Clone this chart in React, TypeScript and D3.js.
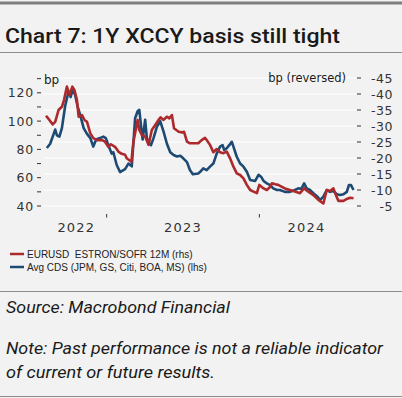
import React from "react";
import * as d3 from "d3";

const cdsDates = ["2022-08-11","2022-08-19","2022-08-31","2022-09-04","2022-09-10","2022-09-16","2022-09-24","2022-10-02","2022-10-07","2022-10-12","2022-10-18","2022-10-23","2022-10-30","2022-11-07","2022-11-15","2022-11-23","2022-11-30","2022-12-07","2022-12-16","2022-12-24","2022-12-30","2023-01-05","2023-01-13","2023-01-17","2023-01-25","2023-02-02","2023-02-14","2023-02-22","2023-03-02","2023-03-10","2023-03-16","2023-03-20","2023-03-24","2023-03-28","2023-04-03","2023-04-07","2023-04-11","2023-04-17","2023-04-23","2023-05-01","2023-05-09","2023-05-17","2023-05-25","2023-06-02","2023-06-10","2023-06-18","2023-06-26","2023-07-03","2023-07-12","2023-07-19","2023-07-26","2023-08-08","2023-08-12","2023-08-20","2023-08-28","2023-09-05","2023-09-13","2023-09-21","2023-09-29","2023-10-05","2023-10-09","2023-10-15","2023-10-21","2023-10-27","2023-10-31","2023-11-08","2023-11-16","2023-11-24","2023-12-02","2023-12-10","2023-12-22","2023-12-30","2024-01-05","2024-01-11","2024-01-19","2024-01-27","2024-02-03","2024-02-12","2024-02-19","2024-03-02","2024-03-14","2024-03-26","2024-04-03","2024-04-10","2024-04-17","2024-04-23","2024-05-01","2024-05-09","2024-05-19","2024-05-25","2024-06-02","2024-06-10","2024-06-18","2024-06-26","2024-07-04","2024-07-12","2024-07-20","2024-07-28","2024-08-02","2024-08-07","2024-08-13"];
const cdsValues = [81,84,94,90,89,95,111,121,117,123,118,111,104,95,91,88,82,87,88,89,88,83,77,78,69,64,66,70,68,102,107,108,97,87,101,88,85,83,88,96,100,92.5,84,78,76,75,75.5,73.7,71,65.4,62.4,63,64,66.6,65.4,67.8,70,77,82,83,79.6,80.8,83,85.4,82,74.8,70,67.8,64.2,58.4,57.7,62,60.7,57.7,56,54.8,52.5,51.3,51.3,50,50,51.3,52.5,52,56,52.5,51.3,49,46.6,44.2,46.6,51.3,50,50.6,48.3,47.8,48.3,50,54.8,54.8,51.3];

const basisDates = ["2022-08-09","2022-08-17","2022-08-25","2022-08-31","2022-09-08","2022-09-16","2022-09-21","2022-09-28","2022-10-04","2022-10-11","2022-10-16","2022-10-22","2022-10-26","2022-11-03","2022-11-09","2022-11-15","2022-11-23","2022-11-30","2022-12-09","2022-12-21","2022-12-28","2023-01-05","2023-01-11","2023-01-21","2023-01-29","2023-02-06","2023-02-14","2023-02-18","2023-03-01","2023-03-06","2023-03-16","2023-03-20","2023-03-26","2023-04-03","2023-04-11","2023-04-19","2023-04-27","2023-05-05","2023-05-10","2023-05-17","2023-05-25","2023-05-31","2023-06-06","2023-06-11","2023-06-22","2023-06-30","2023-07-05","2023-07-12","2023-07-19","2023-07-31","2023-08-08","2023-08-16","2023-08-24","2023-08-28","2023-09-05","2023-09-13","2023-09-21","2023-09-29","2023-10-07","2023-10-15","2023-10-23","2023-10-31","2023-11-08","2023-11-16","2023-11-24","2023-12-02","2023-12-10","2023-12-18","2023-12-26","2024-01-01","2024-01-11","2024-01-19","2024-01-27","2024-01-31","2024-02-08","2024-02-15","2024-02-24","2024-03-02","2024-03-14","2024-03-26","2024-04-07","2024-04-17","2024-04-27","2024-05-09","2024-05-21","2024-06-02","2024-06-10","2024-06-18","2024-06-26","2024-07-02","2024-07-08","2024-07-20","2024-07-28","2024-08-05","2024-08-13"];
const basisValues = [-33.2,-31.9,-30.5,-31.3,-35,-36,-38.1,-42.3,-39.7,-42.3,-41.2,-38.1,-32.9,-33.4,-31.9,-31.3,-27.7,-26.2,-25.6,-25.6,-25.1,-23.5,-24.3,-23.5,-22,-21.3,-21,-19.9,-18.8,-25.1,-31.9,-28.75,-27.2,-26.7,-24.1,-28.75,-30.3,-31.9,-32.7,-31.9,-32.9,-32.4,-33.4,-29.3,-28.2,-28,-28.2,-25.1,-24.6,-24.6,-24.6,-25.6,-26.3,-25.6,-24.1,-21.8,-22.8,-21.8,-21.5,-22,-19.9,-17.3,-15.2,-14.7,-13.65,-11.6,-10,-9.5,-9,-11.6,-10.5,-10,-11,-12.1,-11.8,-11.6,-11,-10.5,-10,-9.5,-9,-10.5,-9.5,-8.4,-6.9,-5.8,-10,-9.7,-10.5,-8.4,-6.6,-6.6,-7.2,-7.6,-7.4];

const leftTicks = [40, 50, 60, 70, 80, 90, 100, 110, 120, 130];
const leftLabels = [40, 60, 80, 100, 120];
const rightTicks = [-45, -40, -35, -30, -25, -20, -15, -10, -5];
const yearTicks = ["2023-01-01", "2024-01-01"];
const yearLabels = ["2022", "2023", "2024"];

const title = "Chart 7: 1Y XCCY basis still tight";
const legendLabels = ["EURUSD  ESTRON/SOFR 12M (rhs)", "Avg CDS (JPM, GS, Citi, BOA, MS) (lhs)"];
const sourceText = "Source: Macrobond Financial";
const noteLines = ["Note: Past performance is not a reliable indicator", "of current or future results."];

const RED = "#ad2a2c";
const BLUE = "#1d4a73";

export default function App() {
  const W = 402, H = 398;
  const parse = d3.timeParse("%Y-%m-%d");
  const cds = cdsDates.map((d, i) => ({ d: parse(d)!, v: cdsValues[i] }));
  const basis = basisDates.map((d, i) => ({ d: parse(d)!, v: basisValues[i] }));
  const x0 = parse(basisDates[0])!;
  const x1 = parse(basisDates[basisDates.length - 1])!;
  const x = d3.scaleTime().domain([x0, x1]).range([46, 353.5]);
  const yL = d3.scaleLinear().domain([40, 120]).range([206, 92.8]);
  const yR = d3.scaleLinear().domain([-5, -45]).range([206, 78]);

  const lineL = d3.line<{ d: Date; v: number }>().x(p => x(p.d)).y(p => yL(p.v));
  const lineR = d3.line<{ d: Date; v: number }>().x(p => x(p.d)).y(p => yR(p.v));

  const yearStarts = yearTicks.map(t => parse(t)!);
  const bounds = [x0, ...yearStarts, x1];
  const axisFont = "'DejaVu Sans', sans-serif";

  return (
    <svg width={W} height={H} style={{ position: "absolute", left: 0, top: 0 }} fontFamily="'Liberation Sans', Arial, sans-serif">
      <rect width={W} height={H} fill="#f2f2f2" />
      <rect x={0} y={1.5} width={W} height={3} fill="#7f7f7f" />
      <text x={5} y={43} fontSize={20} fontWeight={500} fill="#1a1a1a" fontFamily="Roboto, sans-serif" textLength={335} lengthAdjust="spacingAndGlyphs">{title}</text>
      <line x1={0} x2={W} y1={52.5} y2={52.5} stroke="#8c8c8c" strokeWidth={1} />

      {rightTicks.map(t => (
        <line key={"g" + t} x1={43} x2={356} y1={yR(t)} y2={yR(t)} stroke="#ffffff" strokeWidth={1.2} />
      ))}

      {leftTicks.map(t => (
        <line key={"lt" + t} x1={37} x2={41} y1={yL(t)} y2={yL(t)} stroke="#333" strokeWidth={1} />
      ))}
      {leftLabels.map(t => (
        <text key={"ll" + t} x={34} y={yL(t) + 4.5} textAnchor="end" fontSize={12.5} fill="#333" fontFamily={axisFont} letterSpacing={0.8}>{t}</text>
      ))}
      <text x={44} y={84} fontSize={12} fill="#1a1a1a" fontFamily={axisFont}>bp</text>

      {rightTicks.map(t => (
        <line key={"rt" + t} x1={357} x2={361} y1={yR(t)} y2={yR(t)} stroke="#333" strokeWidth={1} />
      ))}
      {rightTicks.map(t => (
        <text key={"rl" + t} x={393} y={yR(t) + 4.5} textAnchor="end" fontSize={12.5} fill="#333" fontFamily={axisFont} letterSpacing={0.5}>{t}</text>
      ))}
      <text x={346} y={82} textAnchor="end" fontSize={11.5} fill="#1a1a1a" fontFamily={axisFont}>bp (reversed)</text>

      {yearStarts.map((d, i) => (
        <line key={"yt" + i} x1={x(d)} x2={x(d)} y1={214} y2={217.5} stroke="#333" strokeWidth={1} />
      ))}
      {yearLabels.map((lab, i) => (
        <text key={"yl" + lab} x={(x(bounds[i]) + x(bounds[i + 1])) / 2} y={232} textAnchor="middle" fontSize={13} fill="#333" fontFamily={axisFont} letterSpacing={1.2}>{lab}</text>
      ))}

      <path d={lineL(cds)!} fill="none" stroke={BLUE} strokeWidth={2.6} strokeLinejoin="round" />
      <path d={lineR(basis)!} fill="none" stroke={RED} strokeWidth={2.6} strokeLinejoin="round" />

      <line x1={10} x2={24} y1={254} y2={254} stroke={RED} strokeWidth={2.5} />
      <text x={27} y={257.5} fontSize={10} fill="#222" style={{ whiteSpace: "pre" }}>{legendLabels[0]}</text>
      <line x1={10} x2={24} y1={267} y2={267} stroke={BLUE} strokeWidth={2.5} />
      <text x={27} y={270.5} fontSize={10} fill="#222" style={{ whiteSpace: "pre" }}>{legendLabels[1]}</text>

      <line x1={0} x2={W} y1={291.5} y2={291.5} stroke="#8c8c8c" strokeWidth={1} />
      <text x={6} y={313} fontSize={16} fontStyle="italic" fill="#1a1a1a" fontFamily="Roboto, sans-serif" textLength={224} lengthAdjust="spacingAndGlyphs">{sourceText}</text>
      <text x={6} y={354} fontSize={16} fontStyle="italic" fill="#1a1a1a" fontFamily="Roboto, sans-serif" textLength={377} lengthAdjust="spacingAndGlyphs">{noteLines[0]}</text>
      <text x={6} y={378} fontSize={16} fontStyle="italic" fill="#1a1a1a" fontFamily="Roboto, sans-serif" textLength={209} lengthAdjust="spacingAndGlyphs">{noteLines[1]}</text>
      <line x1={0} x2={W} y1={396.5} y2={396.5} stroke="#8c8c8c" strokeWidth={1} />
    </svg>
  );
}
